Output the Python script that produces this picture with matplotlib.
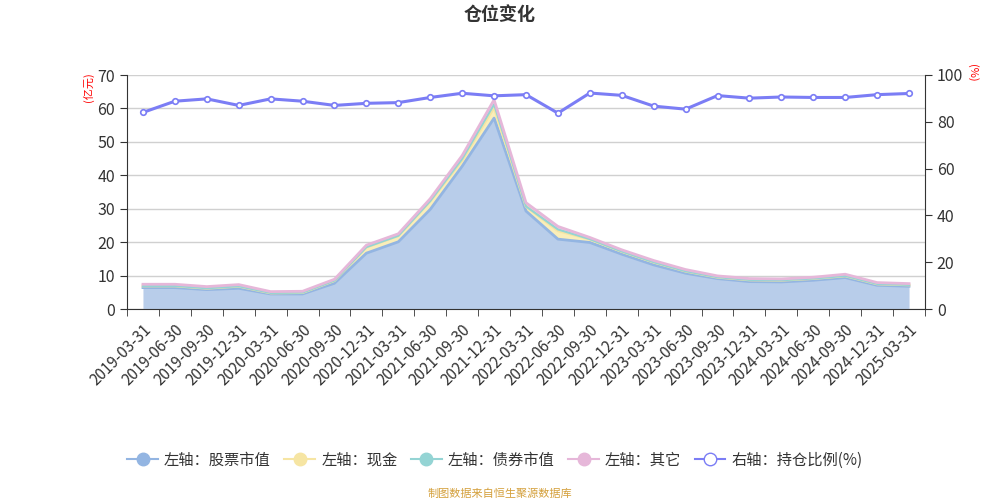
import numpy as np
import matplotlib
matplotlib.use("Agg")
import matplotlib.pyplot as plt
from matplotlib.lines import Line2D

plt.rcParams['font.family'] = ['Noto Sans CJK SC', 'DejaVu Sans']

dates = ["2019-03-31", "2019-06-30", "2019-09-30", "2019-12-31",
         "2020-03-31", "2020-06-30", "2020-09-30", "2020-12-31",
         "2021-03-31", "2021-06-30", "2021-09-30", "2021-12-31",
         "2022-03-31", "2022-06-30", "2022-09-30", "2022-12-31",
         "2023-03-31", "2023-06-30", "2023-09-30", "2023-12-31",
         "2024-03-31", "2024-06-30", "2024-09-30", "2024-12-31",
         "2025-03-31"]
stock = [6.4, 6.4, 5.8, 6.2, 4.5, 4.5, 7.7, 16.7, 20.1, 29.8, 42.7, 57.1,
         29.3, 20.9, 19.9, 16.4, 13.2, 10.7, 9.1, 8.2, 8.1, 8.6, 9.4, 7.1, 6.8]
cash = [0.5, 0.5, 0.4, 0.6, 0.3, 0.4, 0.8, 1.8, 1.8, 2.5, 1.8, 3.2,
        1.4, 2.5, 1.0, 0.8, 0.8, 0.6, 0.4, 0.5, 0.5, 0.5, 0.5, 0.4, 0.4]
bond = [0, 0, 0, 0, 0, 0, 0, 0, 0, 0, 0.4, 0.9,
        0, 0.4, 0, 0, 0, 0, 0, 0, 0, 0, 0, 0, 0]
other = [0.5, 0.5, 0.5, 0.5, 0.4, 0.4, 0.4, 0.6, 0.6, 0.7, 1.0, 1.4,
         1.1, 0.9, 0.5, 0.5, 0.5, 0.5, 0.4, 0.4, 0.4, 0.4, 0.5, 0.4, 0.4]
ratio = [84.0, 88.8, 89.8, 87.0, 89.8, 88.8, 87.0, 87.9, 88.2, 90.4, 92.2, 91.1,
         91.6, 83.7, 92.3, 91.3, 86.7, 85.4, 91.2, 90.1, 90.6, 90.4, 90.4, 91.6, 92.1]

x = np.arange(len(dates))
s1 = np.array(stock)
s2 = s1 + np.array(cash)
s3 = s2 + np.array(bond)
s4 = s3 + np.array(other)

c_stock, f_stock = "#93b5e2", "#b8cdea"
c_cash, f_cash = "#f6e5a3", "#faeeb9"
c_bond, f_bond = "#94d4d4", "#b8e3e3"
c_other, f_other = "#e6b7d9", "#efcde6"
c_line = "#7b7df5"
txt = "#333333"

fig = plt.figure(figsize=(10, 5), dpi=100)
ax = fig.add_axes([0.127, 0.382, 0.798, 0.468])

ax.fill_between(x, 0, s1, color=f_stock, lw=0)
ax.fill_between(x, s1, s2, color=f_cash, lw=0)
ax.fill_between(x, s2, s3, color=f_bond, lw=0)
ax.fill_between(x, s3, s4, color=f_other, lw=0)
ax.plot(x, s1, color=c_stock, lw=2)
ax.plot(x, s2, color=c_cash, lw=2)
ax.plot(x, s3, color=c_bond, lw=1.5)
ax.plot(x, s4, color=c_other, lw=2)

ax.set_xlim(-0.5, len(dates) - 0.5)
ax.set_ylim(0, 70)
ax.set_yticks(range(0, 71, 10))
ax.grid(axis='y', color="#d0d0d0", lw=1)
ax.set_axisbelow(True)
ax.set_xticks(x)
ax.set_xticklabels(dates, rotation=45, ha='right', rotation_mode='anchor',
                   fontsize=11, color=txt)
ax.set_xticks(np.arange(-0.5, len(dates), 1), minor=True)
ax.tick_params(axis='x', which='major', length=0, pad=9)
ax.tick_params(axis='x', which='minor', length=5, color=txt)
ax.tick_params(axis='y', labelsize=11.5, colors=txt, length=5)
for sp in ['top', 'right']:
    ax.spines[sp].set_visible(False)
for sp in ['left', 'bottom']:
    ax.spines[sp].set_color(txt)

ax2 = ax.twinx()
ax2.plot(x, ratio, color=c_line, lw=2.2, marker='o', markersize=4,
         markerfacecolor='white', markeredgecolor=c_line, markeredgewidth=1.2)
ax2.set_ylim(0, 100)
ax2.set_yticks(range(0, 101, 20))
ax2.tick_params(axis='y', labelsize=11.5, colors=txt, length=5)
for sp in ['top', 'left', 'bottom']:
    ax2.spines[sp].set_visible(False)
ax2.spines['right'].set_color(txt)

fig.text(0.5, 0.97, "仓位变化", ha='center', va='center', fontsize=13,
         fontweight='bold', color=txt)
fig.text(0.088, 0.825, "(亿元)", rotation=90, ha='center', va='center',
         fontsize=8, color='red')
fig.text(0.972, 0.855, "(%)", rotation=270, ha='center', va='center',
         fontsize=8, color='red')

handles = [
    Line2D([0], [0], color=c_stock, lw=1.5, marker='o', markersize=9,
           markerfacecolor=c_stock, markeredgecolor=c_stock),
    Line2D([0], [0], color=c_cash, lw=1.5, marker='o', markersize=9,
           markerfacecolor=c_cash, markeredgecolor=c_cash),
    Line2D([0], [0], color=c_bond, lw=1.5, marker='o', markersize=9,
           markerfacecolor=c_bond, markeredgecolor=c_bond),
    Line2D([0], [0], color=c_other, lw=1.5, marker='o', markersize=9,
           markerfacecolor=c_other, markeredgecolor=c_other),
    Line2D([0], [0], color=c_line, lw=1.5, marker='o', markersize=9,
           markerfacecolor='white', markeredgecolor=c_line),
]
labels = ["左轴：股票市值", "左轴：现金", "左轴：债券市值", "左轴：其它", "右轴：持仓比例(%)"]
fig.legend(handles, labels, loc='center', bbox_to_anchor=(0.495, 0.08), ncol=5,
           frameon=False, fontsize=11, handlelength=2.0, handletextpad=0.4,
           columnspacing=0.9, labelcolor=txt)

fig.text(0.5, 0.013, "制图数据来自恒生聚源数据库", ha='center', va='center',
         fontsize=8, color="#d4a03c")

fig.savefig("out.png", dpi=100)
